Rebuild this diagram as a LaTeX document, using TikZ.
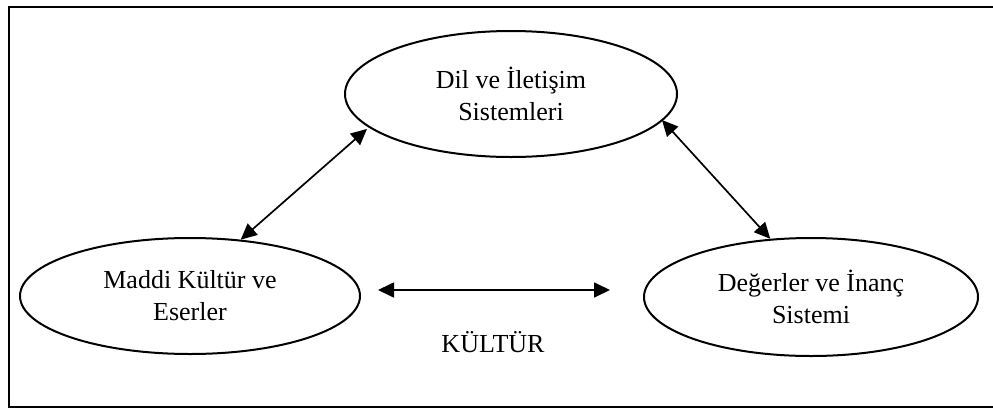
\documentclass[tikz,border=0pt]{standalone}
\usepackage{fontspec}
\setmainfont{Liberation Serif}
\usetikzlibrary{shapes.geometric}
\usetikzlibrary{arrows.meta}
\usetikzlibrary{calc}

\tikzset{
  alan/.style={ellipse,draw,line width=2pt,inner sep=0pt,align=center,
    font=\fontsize{26}{32}\selectfont},
  ok/.style={{Triangle[length=16pt,width=15pt]}-{Triangle[length=16pt,width=15pt]},line width=1.7pt}
}

\begin{document}
\begin{tikzpicture}[x=1pt,y=-1pt]
\clip (0,0) rectangle (993,410);
\draw [line width=2pt] (9,7) rectangle (1005,407);
\node (dil) [alan,minimum width=332pt,minimum height=126pt] at (511,94) {Dil ve İletişim\\Sistemleri};
\node (maddi) [alan,minimum width=340pt,minimum height=116pt] at (190,296) {Maddi Kültür ve\\Eserler};
\node (deger) [alan,minimum width=334pt,minimum height=118pt] at (811,297) {Değerler ve İnanç\\Sistemi};
\node (kultur) [font=\fontsize{26}{32}\selectfont] at (493,342) {KÜLTÜR};
\coordinate (sol) at (378,290);
\coordinate (sag) at (610,290);
\draw [ok] (maddi.48) -- ($(dil.194)+(-4,0)$);
\draw [ok] ($(dil.349)+(2,-3)$) -- (deger.125);
\draw [ok] (sol) -- (sag);
\end{tikzpicture}
\end{document}
